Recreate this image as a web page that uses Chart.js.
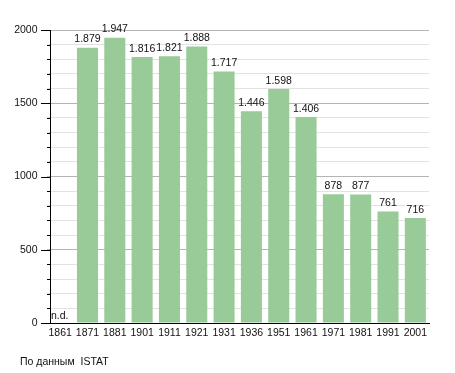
<!DOCTYPE html>
<html><head><meta charset="utf-8">
<script src="https://cdn.jsdelivr.net/npm/chart.js@4/dist/chart.umd.min.js"></script>
<style>html,body{margin:0;padding:0;background:#fff}#wrap{width:455px;height:373px;position:relative}</style>
</head><body><div id="wrap"><canvas id="c" width="455" height="373"></canvas></div>
<script>
const years = ['1861','1871','1881','1901','1911','1921','1931','1936','1951','1961','1971','1981','1991','2001'];
const population = [null,1879,1947,1816,1821,1888,1717,1446,1598,1406,878,877,761,716];
const missingLabel = 'n.d.';
const sourceNote = 'По данным  ISTAT';
const yMax = 2000, yStep = 100, yMajor = 500;

function fmt(v){ const t=Math.floor(v/1000); const r=v%1000; return t>0 ? t+'.'+String(r).padStart(3,'0') : String(r); }
const FONT = '"Liberation Sans", Arial, sans-serif';
const AXIS_X = 50;

const extras = {
  id:'extras',
  afterDatasetsDraw(chart){
    const ctx=chart.ctx, ca=chart.chartArea, y=chart.scales.y;
    ctx.save();
    ctx.strokeStyle='#000'; ctx.lineWidth=1;
    ctx.beginPath(); ctx.moveTo(AXIS_X+0.5, y.getPixelForValue(yMax)); ctx.lineTo(AXIS_X+0.5, ca.bottom); ctx.stroke();
    for(let v=0; v<=yMax; v+=yStep){
      const py=Math.round(y.getPixelForValue(v))+0.5;
      const len = v%yMajor===0 ? 9 : 3;
      ctx.beginPath(); ctx.moveTo(AXIS_X-len, py); ctx.lineTo(AXIS_X, py); ctx.stroke();
    }
    ctx.font='10.5px '+FONT; ctx.fillStyle='#111'; ctx.textAlign='center'; ctx.textBaseline='bottom';
    const meta=chart.getDatasetMeta(0);
    meta.data.forEach((el,i)=>{
      const v=population[i];
      if(v==null){
        ctx.textAlign='left';
        ctx.fillText(missingLabel, AXIS_X+1, ca.bottom-2);
        ctx.textAlign='center';
      } else {
        ctx.fillText(fmt(v), el.x, el.y-3);
      }
    });
    ctx.textAlign='left'; ctx.textBaseline='middle'; ctx.fillStyle='#111';
    ctx.font='10.5px '+FONT;
    ctx.fillText(sourceNote, 20, 362);
    ctx.restore();
  }
};

new Chart(document.getElementById('c'),{
  type:'bar',
  data:{labels:years,datasets:[{data:population,backgroundColor:'#98cb98',borderWidth:0,barPercentage:0.77,categoryPercentage:1}]},
  options:{
    responsive:false, animation:false,
    layout:{padding:{left:0,right:26,top:30,bottom:0}},
    plugins:{legend:{display:false},tooltip:{enabled:false}},
    scales:{
      x:{
        grid:{display:true,color:'rgba(0,0,0,0)',drawTicks:false},
        border:{display:true,color:'#000',width:1},
        ticks:{font:{family:FONT,size:10.5},color:'#111',padding:4,autoSkip:false,maxRotation:0},
        afterFit(s){ s.height=50; }
      },
      y:{
        min:0,max:yMax,
        grid:{drawTicks:false,color:(c)=> (c.tick && c.tick.value%yMajor===0) ? '#b4b4b4' : '#e2e2e2'},
        border:{display:false},
        ticks:{stepSize:yStep,autoSkip:false,padding:9,font:{family:FONT,size:10.5},color:'#111',
          callback:(v)=> v%yMajor===0 ? String(v) : ''},
        afterFit(s){ s.width=46.5; }
      }
    }
  },
  plugins:[extras]
});
</script></body></html>
